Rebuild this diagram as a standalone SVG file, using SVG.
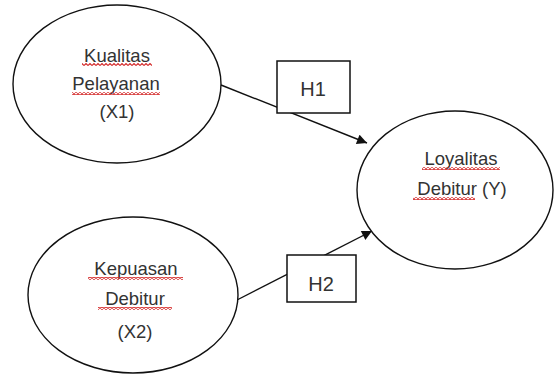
<svg xmlns="http://www.w3.org/2000/svg" width="555" height="375" viewBox="0 0 555 375">
<defs>
<marker id="arr" viewBox="0 0 10 10" refX="10" refY="5" markerWidth="11" markerHeight="10" markerUnits="userSpaceOnUse" orient="auto">
<path d="M0,0 L10,5 L0,10 Z" fill="#111"/>
</marker>
<pattern id="wave" width="4" height="3" patternUnits="userSpaceOnUse">
<path d="M0,2.5 L2,0.5 L4,2.5" fill="none" stroke="#d42a2a" stroke-width="1.1"/>
</pattern>
<style>
.node{fill:#fff;stroke:#111;stroke-width:1.4}
.box{fill:#fff;stroke:#111;stroke-width:1.5}
.t{font-family:"Liberation Sans",Arial,sans-serif;font-size:18.5px;fill:#333;text-anchor:middle}
.h{font-family:"Liberation Sans",Arial,sans-serif;font-size:20px;fill:#333;text-anchor:middle}
.edge{stroke:#111;stroke-width:1.4;fill:none}
.sq{fill:url(#wave)}
</style>
</defs>
<rect width="555" height="375" fill="#fff"/>
<g id="connectors">
<line class="edge" x1="221" y1="85" x2="367" y2="143" marker-end="url(#arr)"/>
<line class="edge" x1="237" y1="300" x2="372" y2="231" marker-end="url(#arr)"/>
</g>
<g id="node-x1">
<ellipse class="node" cx="117" cy="84" rx="104" ry="79"/>
<text class="t" x="117" y="62">Kualitas</text>
<rect class="sq" x="82" y="63" width="70" height="3"/>
<text class="t" x="116" y="90">Pelayanan</text>
<rect class="sq" x="72" y="92" width="88" height="3"/>
<text class="t" x="117" y="118">(X1)</text>
</g>
<g id="node-x2">
<ellipse class="node" cx="133" cy="295" rx="105" ry="78"/>
<text class="t" x="136" y="275">Kepuasan</text>
<rect class="sq" x="88" y="277" width="95" height="3"/>
<text class="t" x="135" y="305">Debitur</text>
<rect class="sq" x="98" y="307" width="74" height="3"/>
<text class="t" x="135" y="338">(X2)</text>
</g>
<g id="node-y">
<ellipse class="node" cx="455" cy="190" rx="98" ry="79"/>
<text class="t" x="461" y="165">Loyalitas</text>
<rect class="sq" x="422" y="167" width="78" height="3"/>
<text class="t" x="462" y="195">Debitur (Y)</text>
<rect class="sq" x="413" y="197" width="62" height="3"/>
</g>
<g id="h1">
<rect class="box" x="277" y="61" width="73" height="52"/>
<text class="h" x="313" y="96">H1</text>
</g>
<g id="h2">
<rect class="box" x="287" y="255" width="69" height="47"/>
<text class="h" x="321" y="291">H2</text>
</g>
</svg>
